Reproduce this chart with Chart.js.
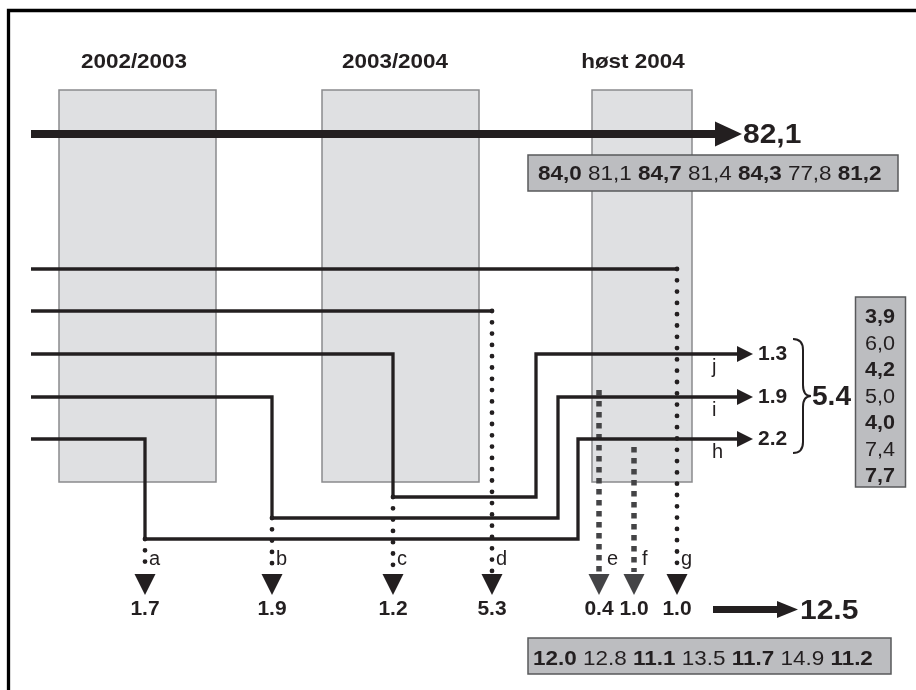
<!DOCTYPE html>
<html>
<head>
<meta charset="utf-8">
<script src="https://cdn.jsdelivr.net/npm/chart.js@4"></script>
<style>
  html, body { margin: 0; padding: 0; background: #fff; }
  #wrap { width: 916px; height: 690px; }
</style>
</head>
<body>
<div id="wrap"><canvas id="flowChart" width="916" height="690"></canvas></div>
<script>
// --- data ---
const periods = ['2002/2003', '2003/2004', 'høst 2004'];
const stayTotal = 82.1;
const staySeries = [84.0, 81.1, 84.7, 81.4, 84.3, 77.8, 81.2];
const exitLabels = ['a', 'b', 'c', 'd', 'e', 'f', 'g'];
const exitValues = [1.7, 1.9, 1.2, 5.3, 0.4, 1.0, 1.0];
const exitTotal = 12.5;
const exitSeries = [12.0, 12.8, 11.1, 13.5, 11.7, 14.9, 11.2];
const returnLabels = ['j', 'i', 'h'];
const returnValues = [1.3, 1.9, 2.2];
const returnTotal = 5.4;
const returnSeries = [3.9, 6.0, 4.2, 5.0, 4.0, 7.4, 7.7];

// --- layout (scale units = px of the 916x690 frame) ---
const colSpan = [[59, 216], [322, 479], [592, 692]];
const headerX = [134, 395, 633];
const rowY = [269, 311, 354, 397, 439];
const exitX = [145, 272, 393, 492, 599, 634, 677];
const loopX = [536, 558, 578];
const loopY = [497, 518, 539];
const startX = 31, arrowTipX = 753, exitEndY = 572, exitTipY = 595;

const INK = '#231f20';
const FONT = '"Liberation Sans", Arial, sans-serif';
const fmtComma = v => v.toFixed(1).replace('.', ',');
const fmtDot = v => v.toFixed(1);

// path datasets
const solidPaths = [];
const dottedPaths = [];
const squarePaths = [];
solidPaths.push([[startX, rowY[0]], [exitX[6], rowY[0]]]);
dottedPaths.push([[exitX[6], rowY[0]], [exitX[6], exitEndY]]);
solidPaths.push([[startX, rowY[1]], [exitX[3], rowY[1]]]);
dottedPaths.push([[exitX[3], rowY[1]], [exitX[3], exitEndY]]);
// rows 2..4 drop to c, b, a and come back as j, i, h
for (let k = 0; k < 3; k++) {
    const y = rowY[2 + k], ex = exitX[2 - k];
    solidPaths.push([[startX, y], [ex, y], [ex, loopY[k]], [loopX[k], loopY[k]], [loopX[k], y], [arrowTipX - 12, y]]);
    dottedPaths.push([[ex, loopY[k]], [ex, exitEndY]]);
}
squarePaths.push([[exitX[4], 390], [exitX[4], exitEndY]]);
squarePaths.push([[exitX[5], 447], [exitX[5], exitEndY]]);

const toPts = p => p.map(([x, y]) => ({ x, y }));
const baseDs = { showLine: true, pointRadius: 0, fill: false, tension: 0, borderJoinStyle: 'miter' };
const datasets = [
    ...solidPaths.map(p => ({ ...baseDs, data: toPts(p), borderColor: INK, borderWidth: 3.3 })),
    ...dottedPaths.map(p => ({ ...baseDs, data: toPts(p), borderColor: INK, borderWidth: 4.8, borderDash: [0, 11.3], borderCapStyle: 'round' })),
    ...squarePaths.map(p => ({ ...baseDs, data: toPts(p), borderColor: '#444446', borderWidth: 5.5, borderDash: [5.5, 5.5] })),
    { ...baseDs, data: toPts([[startX, 134], [717, 134]]), borderColor: INK, borderWidth: 8 },
    { ...baseDs, data: toPts([[713, 609.5], [780, 609.5]]), borderColor: INK, borderWidth: 7 }
];

function drawText(ctx, str, x, y, font, align, sx) {
    ctx.save();
    ctx.font = font;
    const w = ctx.measureText(str).width * sx;
    const left = align === 'center' ? x - w / 2 : align === 'right' ? x - w : x;
    ctx.translate(left, y);
    ctx.scale(sx, 1);
    ctx.textAlign = 'left';
    ctx.textBaseline = 'alphabetic';
    ctx.fillStyle = INK;
    ctx.fillText(str, 0, 0);
    ctx.restore();
    return w;
}

function drawSeriesRow(ctx, values, fmt, x, y, size, sx) {
    let cx = x;
    values.forEach((v, i) => {
        const f = (i % 2 === 0 ? 'bold ' : '') + size + 'px ' + FONT;
        cx += drawText(ctx, fmt(v), cx, y, f, 'left', sx);
        ctx.font = size + 'px ' + FONT;
        cx += ctx.measureText(' ').width * sx;
    });
}

function tri(ctx, pts, color) {
    ctx.beginPath();
    ctx.moveTo(pts[0][0], pts[0][1]);
    ctx.lineTo(pts[1][0], pts[1][1]);
    ctx.lineTo(pts[2][0], pts[2][1]);
    ctx.closePath();
    ctx.fillStyle = color;
    ctx.fill();
}

function box(ctx, x0, y0, x1, y1, fill, stroke) {
    ctx.fillStyle = fill;
    ctx.fillRect(x0, y0, x1 - x0, y1 - y0);
    ctx.lineWidth = 1.5;
    ctx.strokeStyle = stroke;
    ctx.strokeRect(x0, y0, x1 - x0, y1 - y0);
}

const diagramPlugin = {
    id: 'diagram',
    beforeDatasetsDraw(chart) {
        const ctx = chart.ctx;
        const X = v => chart.scales.x.getPixelForValue(v);
        const Y = v => chart.scales.y.getPixelForValue(v);
        ctx.save();
        // frame
        ctx.strokeStyle = '#000';
        ctx.lineWidth = 3.3;
        ctx.beginPath();
        ctx.moveTo(X(8.5), Y(690));
        ctx.lineTo(X(8.5), Y(10.5));
        ctx.lineTo(X(916), Y(10.5));
        ctx.stroke();
        // period columns + headers
        colSpan.forEach(([a, b], i) => {
            box(ctx, X(a), Y(90), X(b), Y(482), '#dfe0e2', '#8a8b8d');
            drawText(ctx, periods[i], X(headerX[i]), Y(68), 'bold 21px ' + FONT, 'center', 1.07);
        });
        ctx.restore();
    },
    afterDatasetsDraw(chart) {
        const ctx = chart.ctx;
        const X = v => chart.scales.x.getPixelForValue(v);
        const Y = v => chart.scales.y.getPixelForValue(v);
        ctx.save();
        // main stay arrow
        tri(ctx, [[X(715), Y(121.5)], [X(742), Y(134)], [X(715), Y(146.5)]], INK);
        drawText(ctx, fmtComma(stayTotal), X(743), Y(143), 'bold 28px ' + FONT, 'left', 1.07);
        box(ctx, X(528), Y(155), X(898), Y(191), '#bcbdc0', '#58595b');
        drawSeriesRow(ctx, staySeries, fmtComma, X(538), Y(180), 21, 1.07);

        // exits a..g
        exitX.forEach((ex, i) => {
            const col = (i === 4 || i === 5) ? '#444446' : INK;
            tri(ctx, [[X(ex - 10.5), Y(574)], [X(ex + 10.5), Y(574)], [X(ex), Y(exitTipY)]], col);
            const off = (i === 4 || i === 5) ? 8 : 4;
            drawText(ctx, exitLabels[i], X(ex + off), Y(565), '20px ' + FONT, 'left', 1.0);
            drawText(ctx, fmtDot(exitValues[i]), X(ex), Y(615), 'bold 21px ' + FONT, 'center', 1.0);
        });
        tri(ctx, [[X(777), Y(601)], [X(798), Y(609.5)], [X(777), Y(618)]], INK);
        drawText(ctx, fmtDot(exitTotal), X(800), Y(619), 'bold 28px ' + FONT, 'left', 1.07);
        box(ctx, X(528), Y(638), X(891), Y(674), '#bcbdc0', '#58595b');
        drawSeriesRow(ctx, exitSeries, fmtDot, X(533), Y(665), 21, 1.07);

        // returns j, i, h
        returnValues.forEach((v, k) => {
            const y = rowY[2 + k];
            tri(ctx, [[X(737), Y(y - 8)], [X(arrowTipX), Y(y)], [X(737), Y(y + 8)]], INK);
            drawText(ctx, fmtDot(v), X(758), Y(y + 6), 'bold 20px ' + FONT, 'left', 1.05);
            drawText(ctx, returnLabels[k], X(712), Y(y + 18.5), '20px ' + FONT, 'left', 1.0);
        });
        // brace
        ctx.beginPath();
        ctx.moveTo(X(793), Y(339));
        ctx.quadraticCurveTo(X(803), Y(339), X(803), Y(350));
        ctx.lineTo(X(803), Y(385));
        ctx.quadraticCurveTo(X(803), Y(396), X(811), Y(396));
        ctx.quadraticCurveTo(X(803), Y(396), X(803), Y(407));
        ctx.lineTo(X(803), Y(442));
        ctx.quadraticCurveTo(X(803), Y(453), X(793), Y(453));
        ctx.lineWidth = 2;
        ctx.strokeStyle = INK;
        ctx.stroke();
        drawText(ctx, fmtDot(returnTotal), X(812), Y(405), 'bold 27px ' + FONT, 'left', 1.04);
        box(ctx, X(855.5), Y(297), X(905.5), Y(487), '#bcbdc0', '#58595b');
        returnSeries.forEach((v, i) => {
            const f = (i % 2 === 0 ? 'bold ' : '') + '20px ' + FONT;
            drawText(ctx, fmtComma(v), X(895), Y(323 + i * 26.5), f, 'right', 1.08);
        });
        ctx.restore();
    }
};

new Chart(document.getElementById('flowChart').getContext('2d'), {
    type: 'scatter',
    data: { datasets },
    options: {
        responsive: false,
        animation: false,
        layout: { padding: 0 },
        plugins: { legend: { display: false }, tooltip: { enabled: false } },
        scales: {
            x: { type: 'linear', min: 0, max: 916, display: false },
            y: { type: 'linear', min: 0, max: 690, reverse: true, display: false }
        }
    },
    plugins: [diagramPlugin]
});
</script>
</body>
</html>
